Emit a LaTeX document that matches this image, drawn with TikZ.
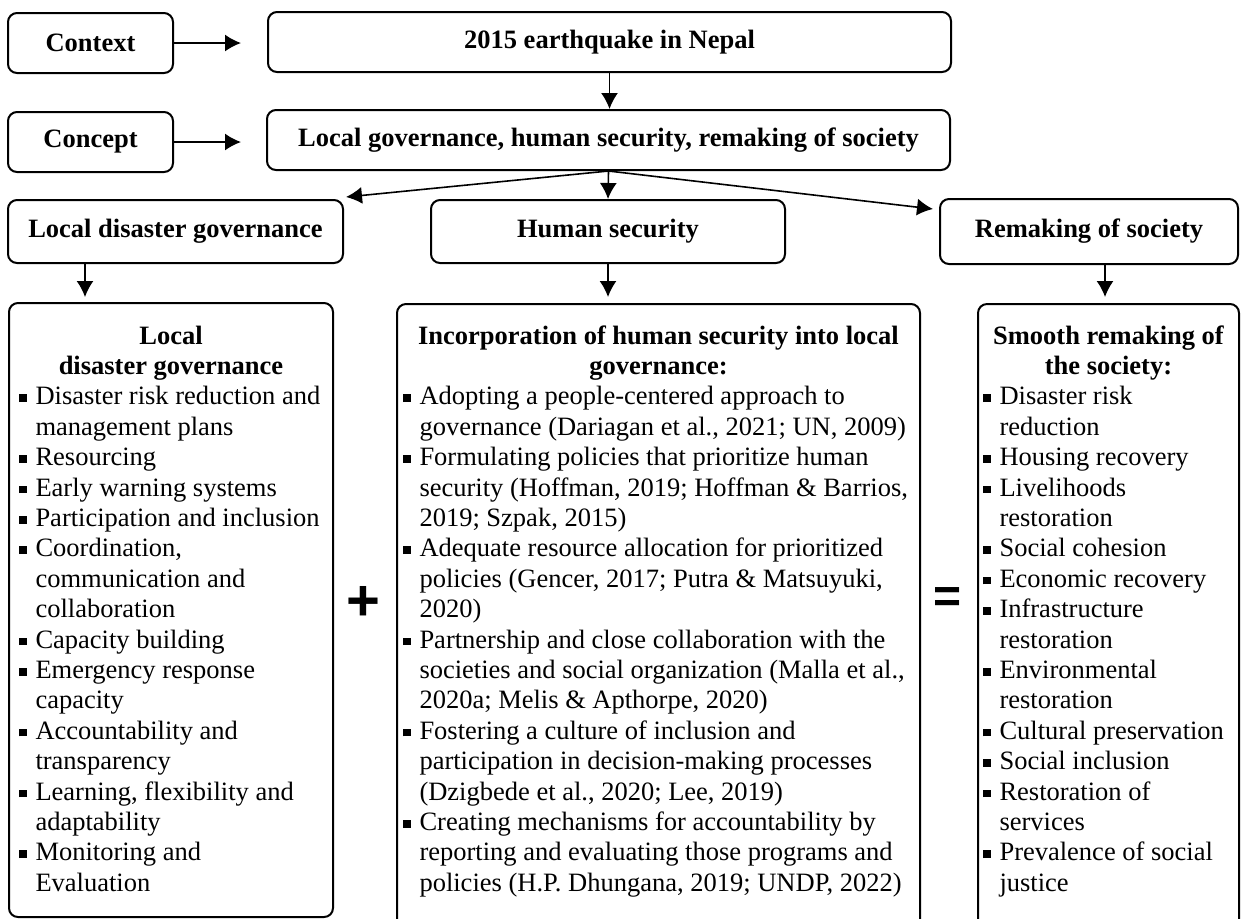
\documentclass[tikz,border=0pt]{standalone}
\usepackage{fontspec}
\setmainfont{Liberation Serif}
\setsansfont{Liberation Sans}
\usetikzlibrary{arrows.meta,positioning,calc}

% square bullet with hanging indent
\newcommand{\sqitem}{\par\hangindent=8.25pt\hangafter=1\noindent\makebox[8.25pt][l]{\rule[1.4pt]{3.8pt}{3.8pt}}}

\begin{document}
\begin{tikzpicture}[x=0.5pt, y=-0.5pt, >={Latex[length=8pt,width=8.5pt]}]
        \clip (0,0) rectangle (1246,918);
        \tikzstyle{block} = [draw, rectangle, rounded corners=4.5pt, line width=1pt, align=center,
                             font=\fontsize{13.25}{15.2}\selectfont\bfseries]
        \tikzstyle{listbox} = [draw, rectangle, rounded corners=4.5pt, line width=1pt, inner ysep=0pt,
                               anchor=north west, font=\fontsize{13.25}{15.2}\selectfont]
        \tikzstyle{link} = [->, line width=0.8pt]

        % top rows
        \node [block, minimum width=82.5pt, minimum height=30pt] (context) at (90.5,43) {Context};
        \node [block, minimum width=341.5pt, minimum height=30pt] (quake) at (609.5,42) {2015 earthquake in Nepal};
        \node [block, minimum width=82.5pt, minimum height=30pt] (concept) at (90.5,142) {Concept};
        \node [block, minimum width=341.5pt, minimum height=30pt] (concepts) at (608.5,140)
              {Local governance, human security, remaking of society};

        % three pillars
        \node [block, minimum width=167.5pt, minimum height=31.5pt] (ldg) at (175.5,231.5) {Local disaster governance};
        \node [block, minimum width=177pt, minimum height=31.5pt] (hs) at (608,231.5) {Human security};
        \node [block, minimum width=149pt, minimum height=32.5pt] (ros) at (1089,231.5) {Remaking of society};

        % detail boxes
        \node [listbox, inner xsep=5pt] (dg) at (8,302) {\parbox[c][307pt][t]{152pt}{\raggedright
          {\centering\bfseries\rule{0pt}{20.5pt}Local\\ disaster governance\par}
          \sqitem Disaster risk reduction and\newline management plans
          \sqitem Resourcing
          \sqitem Early warning systems
          \sqitem Participation and inclusion
          \sqitem Coordination,\newline communication and\newline collaboration
          \sqitem Capacity building
          \sqitem Emergency response\newline capacity
          \sqitem Accountability and\newline transparency
          \sqitem Learning, flexibility and\newline adaptability
          \sqitem Monitoring and\newline Evaluation\par}};
        \node [listbox, inner xsep=3pt] (inc) at (396,303) {\parbox[c][319pt][t]{255.5pt}{\raggedright
          {\centering\bfseries\rule{0pt}{20pt}Incorporation of human security into local\\ governance:\par}
          \sqitem Adopting a people-centered approach to\newline governance (Dariagan et al., 2021; UN, 2009)
          \sqitem Formulating policies that prioritize human\newline security (Hoffman, 2019; Hoffman \& Barrios,\newline 2019; Szpak, 2015)
          \sqitem Adequate resource allocation for prioritized\newline policies (Gencer, 2017; Putra \& Matsuyuki,\newline 2020)
          \sqitem Partnership and close collaboration with the\newline societies and social organization (Malla et al.,\newline 2020a; Melis \& Apthorpe, 2020)
          \sqitem Fostering a culture of inclusion and\newline participation in decision-making processes\newline (Dzigbede et al., 2020; Lee, 2019)
          \sqitem Creating mechanisms for accountability by\newline reporting and evaluating those programs and\newline policies (H.P. Dhungana, 2019; UNDP, 2022)\par}};
        \node [listbox, inner xsep=2.5pt] (smooth) at (977,303) {\parbox[c][319pt][t]{125.5pt}{\raggedright
          {\centering\bfseries\rule{0pt}{20pt}Smooth remaking of\\ the society:\par}
          \sqitem Disaster risk\newline reduction
          \sqitem Housing recovery
          \sqitem Livelihoods\newline restoration
          \sqitem Social cohesion
          \sqitem Economic recovery
          \sqitem Infrastructure\newline restoration
          \sqitem Environmental\newline restoration
          \sqitem Cultural preservation
          \sqitem Social inclusion
          \sqitem Restoration of\newline services
          \sqitem Prevalence of social\newline justice\par}};

        \node [font=\sffamily\bfseries\fontsize{29}{29}\selectfont] (plus) at (363,603) {+};
        \node [font=\sffamily\bfseries\fontsize{24}{24}\selectfont] (equals) at (948,600) {=};

        \coordinate (dgtip) at (85,297);
        \coordinate (smtip) at (1105,297);

        \draw [link, shorten >=13pt] (context.east) -- (context.east -| quake.west);
        \draw [link, shorten >=12.5pt] (concept.east) -- (concept.east -| concepts.west);
        \draw [link] (quake.south) -- (quake.south |- concepts.north);
        \draw [link] (concepts.south) -- ($(ldg.north east)+(2,-2)$);
        \draw [link] (concepts.south) -- (hs.north);
        \draw [link] (concepts.south) -- ($(ros.north west)+(-6,11)$);
        \draw [link] (ldg.south -| dgtip) -- (dgtip);
        \draw [link] (hs.south) -- (hs.south |- dgtip);
        \draw [link] (ros.south -| smtip) -- (smtip);
    \end{tikzpicture}
\end{document}
